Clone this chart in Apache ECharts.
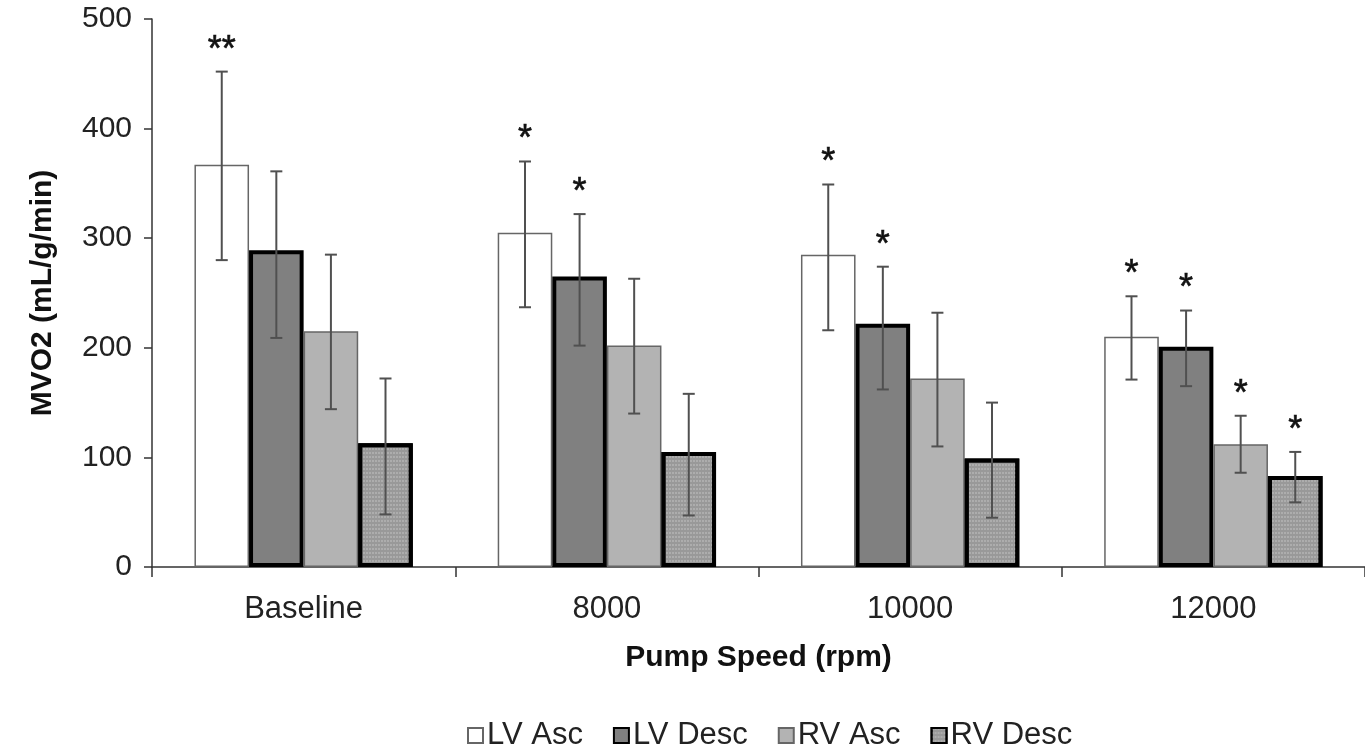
<!DOCTYPE html>
<html>
<head>
<meta charset="utf-8">
<script src="https://cdn.jsdelivr.net/npm/echarts@6/dist/echarts.min.js"></script>
<style>
html,body{margin:0;padding:0;background:#fff;}
#chart{width:1365px;height:747px;}
</style>
</head>
<body>
<div id="chart"></div>
<script>
const categories = ['Baseline', '8000', '10000', '12000'];
const seriesNames = ['LV Asc', 'LV Desc', 'RV Asc', 'RV Desc'];

const lvAsc  = [367, 305, 285, 210];
const lvDesc = [289, 265, 222, 201];
const rvAsc  = [215, 202, 172, 112];
const rvDesc = [113, 105,  99,  83];

const lvAscLow  = [280, 237, 216, 171];
const lvAscHigh = [452, 370, 349, 247];
const lvDescLow  = [209, 202, 162, 165];
const lvDescHigh = [361, 322, 274, 234];
const rvAscLow  = [144, 140, 110,  86];
const rvAscHigh = [285, 263, 232, 138];
const rvDescLow  = [ 48,  47,  45,  59];
const rvDescHigh = [172, 158, 150, 105];

const marksLvAsc  = ['**', '*', '*', '*'];
const marksLvDesc = ['', '*', '*', '*'];
const marksRvAsc  = ['', '', '', '*'];
const marksRvDesc = ['', '', '', '*'];

const yTicks = [0, 100, 200, 300, 400, 500];

const values = [lvAsc, lvDesc, rvAsc, rvDesc];
const lows = [lvAscLow, lvDescLow, rvAscLow, rvDescLow];
const highs = [lvAscHigh, lvDescHigh, rvAscHigh, rvDescHigh];
const marks = [marksLvAsc, marksLvDesc, marksRvAsc, marksRvDesc];

const FONT = '"Liberation Sans", Arial, sans-serif';

const styles = [
  {color: '#ffffff', borderColor: '#666666', borderWidth: 1.5},
  {color: '#808080', borderColor: '#000000', borderWidth: 4},
  {color: '#b3b3b3', borderColor: '#666666', borderWidth: 1.5},
  {color: '#999999', borderColor: '#000000', borderWidth: 4,
   decal: {symbol: 'rect', symbolSize: 1, dashArrayX: [[2, 1]], dashArrayY: [2, 2], color: 'rgba(255,255,255,0.2)', rotation: 0}}
];

const GAP = 0.28;

const barSeries = seriesNames.map((n, i) => ({
  name: n,
  type: 'bar',
  data: values[i],
  barGap: '0%',
  barCategoryGap: (GAP * 100) + '%',
  itemStyle: styles[i],
  emphasis: {disabled: true}
}));

const errData = [];
for (let s = 0; s < 4; s++) {
  for (let c = 0; c < categories.length; c++) {
    errData.push([c, lows[s][c], highs[s][c], s, marks[s][c]]);
  }
}

const errSeries = {
  type: 'custom',
  name: 'err',
  data: errData,
  z: 10,
  silent: true,
  encode: {x: 0, y: [1, 2]},
  renderItem: function (params, api) {
    const c = api.value(0);
    const s = api.value(3);
    const mark = errData[params.dataIndex][4];
    const bw = api.size([1, 0])[0];
    const barW = bw * (1 - GAP) / 4;
    const lowP = api.coord([c, api.value(1)]);
    const highP = api.coord([c, api.value(2)]);
    const x = lowP[0] - bw * (1 - GAP) / 2 + (s + 0.5) * barW;
    const cap = 6;
    const st = {stroke: '#505050', lineWidth: 2};
    const children = [
      {type: 'line', shape: {x1: x, y1: lowP[1], x2: x, y2: highP[1]}, style: st},
      {type: 'line', shape: {x1: x - cap, y1: lowP[1], x2: x + cap, y2: lowP[1]}, style: st},
      {type: 'line', shape: {x1: x - cap, y1: highP[1], x2: x + cap, y2: highP[1]}, style: st}
    ];
    if (mark) {
      children.push({type: 'text', style: {text: mark, x: x, y: highP[1] - 3, align: 'center', verticalAlign: 'bottom',
        font: '36px ' + FONT, fill: '#111', stroke: '#111', lineWidth: 0.6}});
    }
    return {type: 'group', children: children};
  }
};

const chart = echarts.init(document.getElementById('chart'), null, {renderer: 'canvas'});
chart.setOption({
  animation: false,
  backgroundColor: '#ffffff',
  textStyle: {fontFamily: FONT},
  grid: {left: 152, top: 19, width: 1224, height: 548, containLabel: false},
  legend: {
    data: seriesNames,
    left: 462,
    top: 715,
    icon: 'rect',
    itemWidth: 15,
    itemHeight: 15,
    itemGap: 30,
    textStyle: {fontSize: 31, color: '#222', fontFamily: FONT, padding: [0, 0, 0, -1]},
    selectedMode: false
  },
  xAxis: {
    type: 'category',
    data: categories,
    name: 'Pump Speed (rpm)',
    nameLocation: 'middle',
    nameGap: 76,
    nameTextStyle: {fontSize: 30, fontWeight: 'bold', color: '#111'},
    axisLine: {lineStyle: {color: '#333', width: 1.5}},
    axisTick: {show: true, length: 10, lineStyle: {color: '#333', width: 1.5}},
    axisLabel: {fontSize: 31, color: '#222', margin: 27},
    splitLine: {show: false}
  },
  yAxis: {
    type: 'value',
    min: yTicks[0],
    max: yTicks[yTicks.length - 1],
    interval: 100,
    name: 'MVO2 (mL/g/min)',
    nameLocation: 'middle',
    nameGap: 94,
    nameRotate: 90,
    nameTextStyle: {fontSize: 30, fontWeight: 'bold', color: '#111'},
    axisLine: {show: true, lineStyle: {color: '#333', width: 1.5}},
    axisTick: {show: true, inside: false, length: 8, lineStyle: {color: '#333', width: 1.5}},
    axisLabel: {fontSize: 30, color: '#222', margin: 20},
    splitLine: {show: false}
  },
  series: barSeries.concat([errSeries])
});
</script>
</body>
</html>
